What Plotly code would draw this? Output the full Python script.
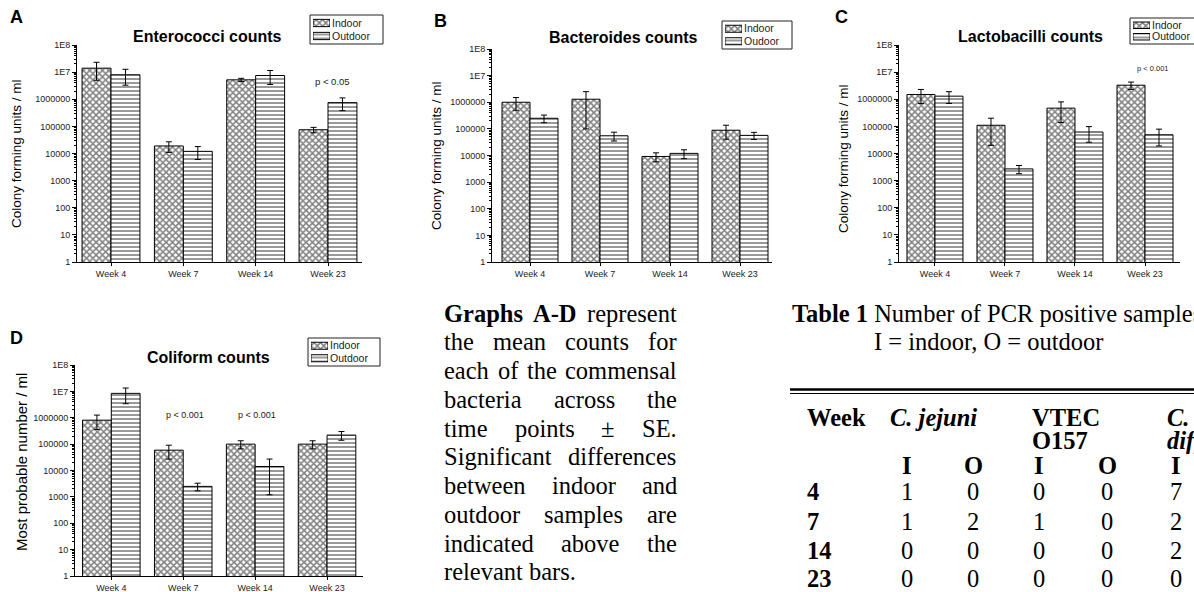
import plotly.graph_objects as go

W, H = 1194, 592

# ---------------- data ----------------
weeks = ["Week 4", "Week 7", "Week 14", "Week 23"]

entero_indoor = [1.4e7, 1.9e4, 5.2e6, 7.5e4]
entero_indoor_se = [9e6, 8e3, 7e5, 1.7e4]
entero_outdoor = [8.0e6, 1.2e4, 7.5e6, 7.5e5]
entero_outdoor_se = [4.7e6, 6e3, 4e6, 3.7e5]

bact_indoor = [1.0e6, 1.3e6, 9.2e3, 8.9e4]
bact_indoor_se = [5e5, 1.2e6, 3.4e3, 4.8e4]
bact_outdoor = [2.5e5, 5.5e4, 1.2e4, 5.7e4]
bact_outdoor_se = [8e4, 2e4, 4.4e3, 1.7e4]

lacto_indoor = [1.5e6, 1.1e5, 4.7e5, 3.3e6]
lacto_indoor_se = [8e5, 9e4, 3.3e5, 1.0e6]
lacto_outdoor = [1.3e6, 2.7e3, 6.2e4, 4.9e4]
lacto_outdoor_se = [6e5, 9e2, 3.6e4, 3e4]

coli_indoor = [8.1e5, 5.9e4, 1.0e5, 1.0e5]
coli_indoor_se = [4.5e5, 3.2e4, 3.4e4, 3.4e4]
coli_outdoor = [8.4e6, 2.5e3, 1.42e4, 2.2e5]
coli_outdoor_se = [5e6, 8e2, 1.3e4, 8e4]

ytick_vals = [1, 10, 100, 1000, 10000, 100000, 1000000, 1e7, 1e8]
ytick_text = ["1", "10", "100", "1000", "10000", "100000", "1000000", "1E7", "1E8"]

# PCR table
table_weeks = ["4", "7", "14", "23"]
cjejuni_I = [1, 1, 0, 0]
cjejuni_O = [0, 2, 0, 0]
vtec_I = [0, 1, 0, 0]
vtec_O = [0, 0, 0, 0]
cdiff_I = [7, 2, 2, 0]

SANS = "Arial, Liberation Sans, sans-serif"
SERIF = "Times New Roman, Liberation Serif, serif"

INDOOR_PAT = dict(shape="x", fgcolor="black", bgcolor="white", size=4.5, solidity=0.55)
OUTDOOR_PAT = dict(shape="-", fgcolor="black", bgcolor="white", size=4, solidity=0.4)

def px(x):
    return x / W

def py(y):
    return 1 - y / H

panels = [
    dict(letter="A", title="Enterococci counts", ylabel="Colony forming units / ml",
         indoor=entero_indoor, indoor_se=entero_indoor_se,
         outdoor=entero_outdoor, outdoor_se=entero_outdoor_se, outname="Outdoor",
         x0=77, x1=362, ytop=45, ybot=262, xr=[-0.47, 3.47],
         letter_xy=(16, 17), title_xy=(207, 36), ylab_xy=(17, 154), ylab_fs=13.5,
         legbox=(310, 15, 383, 44),
         pvals=[("p < 0.05", 332, 82, 9.5)]),
    dict(letter="B", title="Bacteroides counts", ylabel="Colony forming units / ml",
         indoor=bact_indoor, indoor_se=bact_indoor_se,
         outdoor=bact_outdoor, outdoor_se=bact_outdoor_se, outname="Oudoor",
         x0=492, x1=772, ytop=49, ybot=262, xr=[-0.543, 3.457],
         letter_xy=(440, 21), title_xy=(623, 38), ylab_xy=(437, 156), ylab_fs=13.5,
         legbox=(722, 21, 792, 49),
         pvals=[]),
    dict(letter="C", title="Lactobacilli counts", ylabel="Colony forming units / ml",
         indoor=lacto_indoor, indoor_se=lacto_indoor_se,
         outdoor=lacto_outdoor, outdoor_se=lacto_outdoor_se, outname="Outdoor",
         x0=899, x1=1180, ytop=45, ybot=262, xr=[-0.514, 3.5],
         letter_xy=(841, 17), title_xy=(1030, 36), ylab_xy=(843, 159), ylab_fs=13.5,
         legbox=(1130, 18, 1203, 44),
         pvals=[("p < 0.001", 1153, 68, 7.5)]),
    dict(letter="D", title="Coliform counts", ylabel="Most probable number / ml",
         indoor=coli_indoor, indoor_se=coli_indoor_se,
         outdoor=coli_outdoor, outdoor_se=coli_outdoor_se, outname="Outdoor",
         x0=75, x1=363, ytop=365, ybot=576, xr=[-0.505, 3.5],
         letter_xy=(16, 338), title_xy=(208, 357), ylab_xy=(21, 462), ylab_fs=15,
         legbox=(308, 338, 380, 366),
         pvals=[("p < 0.001", 185, 415, 9), ("p < 0.001", 257, 415, 9)]),
]

fig = go.Figure()
annotations = []
shapes = []
layout_extra = {}

def note(text, x, y, size, family=SANS, color="black", xanchor="center", yanchor="middle", angle=0):
    annotations.append(dict(text=text, x=px(x), y=py(y), xref="paper", yref="paper",
                            xanchor=xanchor, yanchor=yanchor, showarrow=False, borderpad=0,
                            textangle=angle, font=dict(family=family, size=size, color=color)))

n = len(panels)
for i, p in enumerate(panels, start=1):
    xa = "x" if i == 1 else f"x{i}"
    ya = "y" if i == 1 else f"y{i}"
    err = dict(type="data", visible=True, color="black", thickness=1, width=3)
    fig.add_trace(go.Bar(
        x=weeks, y=p["indoor"], name="Indoor", xaxis=xa, yaxis=ya, showlegend=False,
        marker=dict(color="white", line=dict(color="black", width=1), pattern=INDOOR_PAT),
        error_y=dict(array=p["indoor_se"], **err)))
    fig.add_trace(go.Bar(
        x=weeks, y=p["outdoor"], name=p["outname"], xaxis=xa, yaxis=ya, showlegend=False,
        marker=dict(color="white", line=dict(color="black", width=1), pattern=OUTDOOR_PAT),
        error_y=dict(array=p["outdoor_se"], **err)))

    xkey = "xaxis" if i == 1 else f"xaxis{i}"
    ykey = "yaxis" if i == 1 else f"yaxis{i}"
    layout_extra[xkey] = dict(
        domain=[px(p["x0"]), px(p["x1"])], anchor=ya, type="category",
        range=p["xr"], showline=True, linecolor="black", linewidth=1,
        ticks="outside", ticklen=3, tickcolor="black", showgrid=False, zeroline=False,
        tickfont=dict(family=SANS, size=9, color="#222"))
    layout_extra[ykey] = dict(
        domain=[py(p["ybot"]), py(p["ytop"])], anchor=xa, type="log", range=[0, 8],
        tickmode="array", tickvals=ytick_vals, ticktext=ytick_text,
        showline=True, linecolor="black", linewidth=1, ticks="outside", ticklen=4,
        tickcolor="black", showgrid=False, zeroline=False,
        minor=dict(ticks="outside", ticklen=2, tickcolor="black", dtick="D1", showgrid=False),
        tickfont=dict(family=SANS, size=9, color="#222"))

    # legend: boxed key with patterned swatches (helper axes)
    bx0, by0, bx1, by1 = p["legbox"]
    k = n + i
    lxa, lya = f"x{k}", f"y{k}"
    names = ["Indoor", p["outname"]]
    fig.add_trace(go.Bar(
        orientation="h", y=names, x=[1, 1], width=0.56, xaxis=lxa, yaxis=lya,
        showlegend=False, hoverinfo="skip",
        marker=dict(color="white", line=dict(color="black", width=1),
                    pattern=dict(shape=["x", "-"], fgcolor="black", bgcolor="white",
                                 size=[4.5, 4], solidity=[0.55, 0.4]))))
    layout_extra[f"xaxis{k}"] = dict(domain=[px(bx0 + 3), px(bx0 + 20)], range=[0, 1],
                                     visible=False, anchor=lya, fixedrange=True)
    layout_extra[f"yaxis{k}"] = dict(domain=[py(by1 - 1.5), py(by0 + 1.5)], anchor=lxa,
                                     type="category", categoryorder="array",
                                     categoryarray=names[::-1], range=[-0.5, 1.5],
                                     tickmode="array", tickvals=names, ticktext=names,
                                     side="right", ticks="", showline=False, showgrid=False,
                                     zeroline=False, fixedrange=True, ticklabelstandoff=1,
                                     tickfont=dict(family=SANS, size=10.5, color="#222"))
    shapes.append(dict(type="rect", xref="paper", yref="paper",
                       x0=px(bx0), x1=px(bx1), y0=py(by1), y1=py(by0),
                       line=dict(color="#222", width=1), fillcolor="rgba(0,0,0,0)", layer="below"))

    note(f"<b>{p['letter']}</b>", *p["letter_xy"], 18)
    note(f"<b>{p['title']}</b>", *p["title_xy"], 16)
    note(p["ylabel"], *p["ylab_xy"], p["ylab_fs"], angle=-90)
    for (t, vx, vy, fs) in p["pvals"]:
        note(t, vx, vy, fs, color="#222")

# ---------------- justified paragraph ----------------
TR = {' ': 250, 'a': 444, 'b': 500, 'c': 444, 'd': 500, 'e': 444, 'f': 333, 'g': 500, 'h': 500,
      'i': 278, 'l': 278, 'm': 778, 'n': 500, 'o': 500, 'p': 500, 'r': 333, 's': 389, 't': 278,
      'u': 500, 'v': 500, 'w': 722, 'S': 556, 'E': 611, '.': 250, '±': 564}
TB = {' ': 250, 'G': 778, 'r': 444, 'a': 500, 'p': 556, 'h': 556, 's': 389, 'A': 722, '-': 333, 'D': 722}

FS = 24.5
def wwidth(word, bold):
    tab = TB if bold else TR
    return sum(tab.get(c, 500) for c in word) * FS / 1000

para = [
    [("Graphs", True), ("A-D", True), ("represent", False)],
    [("the", False), ("mean", False), ("counts", False), ("for", False)],
    [("each", False), ("of", False), ("the", False), ("commensal", False)],
    [("bacteria", False), ("across", False), ("the", False)],
    [("time", False), ("points", False), ("±", False), ("SE.", False)],
    [("Significant", False), ("differences", False)],
    [("between", False), ("indoor", False), ("and", False)],
    [("outdoor", False), ("samples", False), ("are", False)],
    [("indicated", False), ("above", False), ("the", False)],
    [("relevant", False), ("bars.", False)],
]
PL, PR, PY0, PDY = 443, 676, 313, 28.75
for li, words in enumerate(para):
    widths = [wwidth(w, b) for w, b in words]
    if li == len(para) - 1:
        gap = TR[' '] * FS / 1000
    else:
        gap = (PR - PL - sum(widths)) / (len(words) - 1)
    x = PL
    for (w, b), wd in zip(words, widths):
        note(f"<b>{w}</b>" if b else w, x, PY0 + li * PDY, FS, family=SERIF, xanchor="left")
        x += wd + gap

# ---------------- table ----------------
def tnote(text, x, y, xanchor="left"):
    note(text, x, y, FS, family=SERIF, xanchor=xanchor)

tnote("<b>Table 1</b> Number of PCR positive samples", 791, 313)
tnote("I = indoor, O = outdoor", 988, 341, "center")
tnote("<b>Week</b>", 806, 418)
tnote("<b><i>C. jejuni</i></b>", 889, 418)
tnote("<b>VTEC</b>", 1031, 418)
tnote("<b>O157</b>", 1031, 440)
tnote("<b><i>C.</i></b>", 1166, 418)
tnote("<b><i>difficile</i></b>", 1166, 440)
col_x = [907, 973, 1039, 1107, 1176]
for cx, lab in zip(col_x, ["I", "O", "I", "O", "I"]):
    tnote(f"<b>{lab}</b>", cx, 465, "center")
row_y = [492, 521, 550, 578]
cols = [cjejuni_I, cjejuni_O, vtec_I, vtec_O, cdiff_I]
for r, wk in enumerate(table_weeks):
    tnote(f"<b>{wk}</b>", 806, row_y[r])
    for cx, col in zip(col_x, cols):
        tnote(str(col[r]), cx, row_y[r], "center")

shapes += [
    dict(type="line", xref="paper", yref="paper", x0=px(790), x1=px(1194), y0=py(389.5), y1=py(389.5),
         line=dict(color="black", width=2.5)),
    dict(type="line", xref="paper", yref="paper", x0=px(790), x1=px(1194), y0=py(393.5), y1=py(393.5),
         line=dict(color="black", width=1.2)),
]

fig.update_layout(
    width=W, height=H, autosize=False,
    margin=dict(l=0, r=0, t=0, b=0, pad=0, autoexpand=False),
    paper_bgcolor="white", plot_bgcolor="white",
    barmode="group", bargap=0.2, bargroupgap=0,
    showlegend=False,
    annotations=annotations, shapes=shapes,
    **layout_extra)

fig.write_html("out.html", config={"displayModeBar": False},
               post_script="document.body.style.margin='0';document.body.style.overflow='hidden';")
